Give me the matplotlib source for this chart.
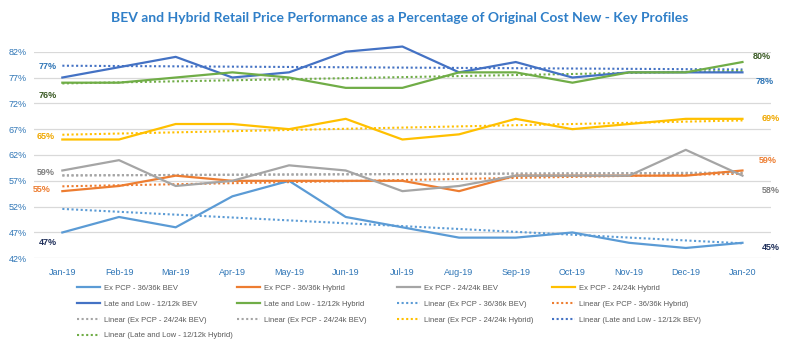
import numpy as np
import matplotlib
matplotlib.use('Agg')
import matplotlib.pyplot as plt

plt.rcParams['font.family'] = ['Liberation Sans', 'DejaVu Sans']

months = ['Jan-19', 'Feb-19', 'Mar-19', 'Apr-19', 'May-19', 'Jun-19', 'Jul-19',
          'Aug-19', 'Sep-19', 'Oct-19', 'Nov-19', 'Dec-19', 'Jan-20']

ex36_bev    = [47, 50, 48, 54, 57, 50, 48, 46, 46, 47, 45, 44, 45]
ex36_hybrid = [55, 56, 58, 57, 57, 57, 57, 55, 58, 58, 58, 58, 59]
ex24_bev    = [59, 61, 56, 57, 60, 59, 55, 56, 58, 58, 58, 63, 58]
ex24_hybrid = [65, 65, 68, 68, 67, 69, 65, 66, 69, 67, 68, 69, 69]
ll12_bev    = [77, 79, 81, 77, 78, 82, 83, 78, 80, 77, 78, 78, 78]
ll12_hybrid = [76, 76, 77, 78, 77, 75, 75, 78, 78, 76, 78, 78, 80]

names = ['Ex PCP - 36/36k BEV', 'Ex PCP - 36/36k Hybrid', 'Ex PCP - 24/24k BEV',
         'Ex PCP - 24/24k Hybrid', 'Late and Low - 12/12k BEV', 'Late and Low - 12/12k Hybrid']
colors = ['#5B9BD5', '#ED7D31', '#A5A5A5', '#FFC000', '#4472C4', '#70AD47']
series = [ex36_bev, ex36_hybrid, ex24_bev, ex24_hybrid, ll12_bev, ll12_hybrid]

# end labels: (text, x index, y value, colour)
left_labels = [('77%', -0.26, 79.2, '#2E75B6'), ('76%', -0.26, 73.6, '#3A5A24'),
               ('65%', -0.30, 65.6, '#F0A800'), ('59%', -0.30, 58.6, '#7F7F7F'),
               ('55%', -0.36, 55.3, '#ED7D31'), ('47%', -0.26, 45.0, '#1F2F5A')]
right_labels = [('80%', 12.35, 81.0, '#3A5A24'), ('78%', 12.40, 76.3, '#2E75B6'),
                ('69%', 12.50, 69.0, '#F0A800'), ('59%', 12.45, 60.9, '#ED7D31'),
                ('58%', 12.50, 55.1, '#7F7F7F'), ('45%', 12.50, 44.0, '#1F2F5A')]

x = np.arange(len(months))

fig = plt.figure(figsize=(8, 3.59), dpi=100)
ax = fig.add_axes([0.0425, 0.2805, 0.921, 0.5755])

handles = []
for s, c, n in zip(series, colors, names):
    h, = ax.plot(x, s, color=c, lw=1.6, label=n, clip_on=False, zorder=3)
    handles.append(h)

trend_series = [0, 1, 2, 2, 3, 4, 5]
for i in trend_series:
    k, b = np.polyfit(x, series[i], 1)
    h, = ax.plot(x, k * x + b, color=colors[i], lw=1.5, linestyle=(0, (1, 1.2)),
                 label='Linear (' + names[i] + ')', zorder=2)
    handles.append(h)

for t, xi, yi, c in left_labels + right_labels:
    ax.text(xi, yi, t, color=c, fontsize=6.5, fontweight='bold', ha='center', va='center')

ax.set_xlim(-0.5, 12.5)
ax.set_ylim(42, 82)
ax.set_yticks(range(42, 83, 5))
ax.set_yticklabels([f'{v}%' for v in range(42, 83, 5)])
ax.set_xticks(x)
ax.set_xticklabels(months)
ax.tick_params(length=0, labelsize=6.5, labelcolor='#2E75B6')
ax.tick_params(axis='y', pad=5)
ax.tick_params(axis='x', pad=7)
ax.grid(axis='y', color='#D9D9D9', lw=0.9)
ax.set_axisbelow(True)
for sp in ax.spines.values():
    sp.set_visible(False)

fig.text(0.5, 0.95, 'BEV and Hybrid Retail Price Performance as a Percentage of Original Cost New - Key Profiles',
         ha='center', va='center', fontsize=10, fontweight='bold', color='#2F7FC8', family='Lato')

# legend laid out row by row in four columns
col_x = [0.096, 0.296, 0.496, 0.690]
for j in range(4):
    hs = handles[j::4]
    leg = fig.legend(handles=hs, labels=[h.get_label() for h in hs], loc='upper left',
                     bbox_to_anchor=(col_x[j], 0.207), frameon=False, fontsize=5.5,
                     handlelength=3.0, handletextpad=0.5, labelspacing=1.1,
                     borderpad=0, borderaxespad=0, labelcolor='#595959')

fig.savefig('out.png', dpi=100)
